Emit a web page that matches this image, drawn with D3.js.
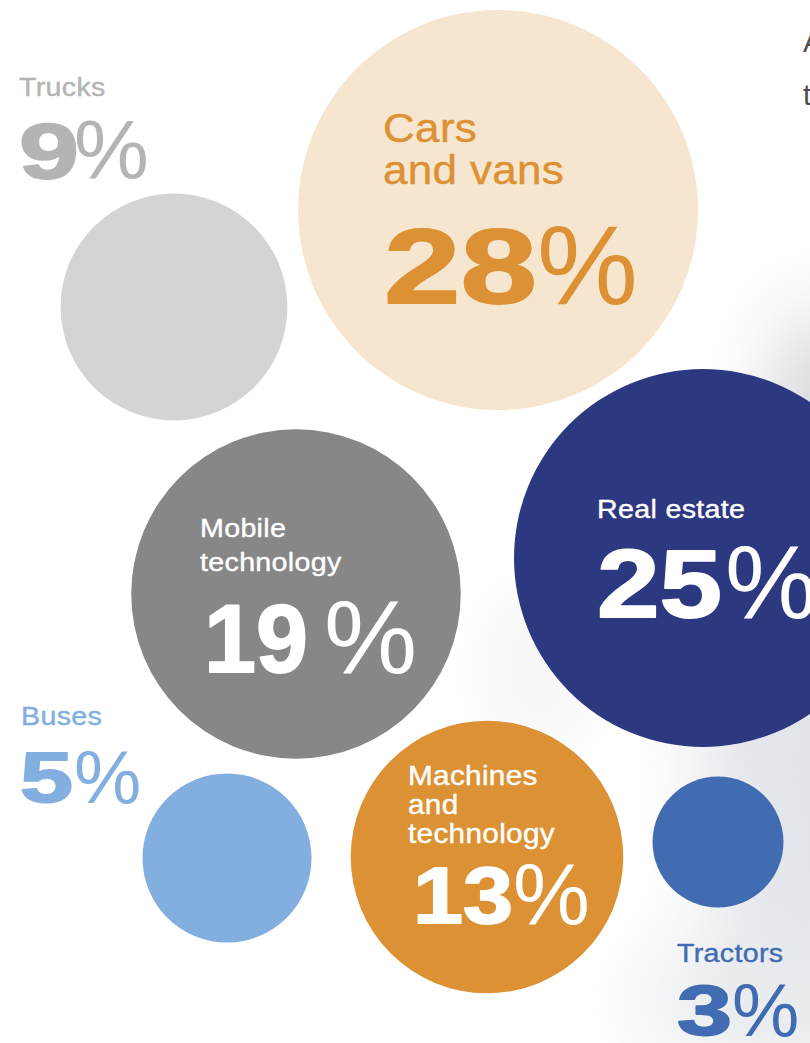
<!DOCTYPE html>
<html>
<head>
<meta charset="utf-8">
<script src="https://cdnjs.cloudflare.com/ajax/libs/d3/7.8.5/d3.min.js"></script>
<style>
  html, body { margin: 0; padding: 0; background: #fff; overflow: hidden; }
  svg { display: block; }
  text { font-family: "Liberation Sans", Arial, Helvetica, sans-serif; }
</style>
</head>
<body>
<div id="chart"></div>
<script>
// data
var categories = ["Trucks", "Cars and vans", "Real estate", "Mobile technology", "Buses", "Machines and technology", "Tractors"];
var shares     = [9, 28, 25, 19, 5, 13, 3];
var labelLines = [["Trucks"], ["Cars", "and vans"], ["Real estate"], ["Mobile", "technology"], ["Buses"], ["Machines", "and", "technology"], ["Tractors"]];
var introLines = ["A", "t"];

// styles
var fills      = ["#d4d4d4", "#f6e6cf", "#2c3880", "#878787", "#82aee0", "#dc9234", "#416cb1"];
var textColors = ["#b4b4b4", "#dc9234", "#ffffff", "#ffffff", "#82aee0", "#ffffff", "#416cb1"];

// hand placed bubble layout: centre, label anchor, number box, percent x
var layout = {
  "Trucks":                  {cx: 174, cy: 307, lx: 19,  ly: 96,  lh: 0,  lfs: 26, nx: 19,  ny: 178,  nfs: 78,  nw: 60,  px: 74},
  "Cars and vans":           {cx: 498, cy: 210, lx: 383, ly: 142, lh: 42, lfs: 40, nx: 384, ny: 303,  nfs: 105, nw: 153, px: 537},
  "Real estate":             {cx: 703, cy: 558, lx: 597, ly: 518, lh: 0,  lfs: 26, nx: 597, ny: 617,  nfs: 96,  nw: 125, px: 725},
  "Mobile technology":       {cx: 296, cy: 594, lx: 200, ly: 537, lh: 34, lfs: 26, nx: 204, ny: 672,  nfs: 97,  nw: 104, px: 324},
  "Buses":                   {cx: 227, cy: 858, lx: 21,  ly: 725, lh: 0,  lfs: 26, nx: 20,  ny: 802,  nfs: 70,  nw: 53,  px: 74},
  "Machines and technology": {cx: 487, cy: 857, lx: 408, ly: 785, lh: 29, lfs: 27, nx: 413, ny: 923,  nfs: 80,  nw: 100, px: 513},
  "Tractors":                {cx: 718, cy: 842, lx: 677, ly: 962, lh: 0,  lfs: 26, nx: 677, ny: 1035, nfs: 70,  nw: 55,  px: 732}
};

var W = 810, H = 1043;
var labelStretch = 1.1;
var pctRatio = 1.08;

var items = categories.map(function(c, i) {
  return {name: c, value: shares[i], lines: labelLines[i], fill: fills[i], color: textColors[i], pos: layout[c]};
});

var r = d3.scaleSqrt().domain([0, d3.max(shares)]).range([0, 200]);

var svg = d3.select("#chart").append("svg")
  .attr("width", W)
  .attr("height", H);

// soft photo-like shading on the right
var defs = svg.append("defs");
defs.append("filter").attr("id", "soft")
  .attr("x", "-50%").attr("y", "-50%").attr("width", "200%").attr("height", "200%")
  .append("feGaussianBlur").attr("stdDeviation", 40);

var bg = svg.append("g").attr("filter", "url(#soft)");
bg.append("ellipse").attr("cx", 830).attr("cy", 720).attr("rx", 130).attr("ry", 360).attr("fill", "#e2e5ea");
bg.append("ellipse").attr("cx", 770).attr("cy", 1000).attr("rx", 130).attr("ry", 70).attr("fill", "#e8ebee");
bg.append("ellipse").attr("cx", 820).attr("cy", 380).attr("rx", 30).attr("ry", 70).attr("fill", "#c9c5cd");
bg.append("ellipse").attr("cx", 540).attr("cy", 670).attr("rx", 30).attr("ry", 70).attr("fill", "#ececef");

// intro text at top right (runs off the page)
svg.append("g").selectAll("text")
  .data(introLines)
  .join("text")
  .attr("x", 803)
  .attr("y", function(d, i) { return 52 + i * 53; })
  .attr("font-size", 29)
  .attr("fill", "#4d4d4d")
  .text(function(d) { return d; });

// bubbles
svg.append("g").selectAll("circle")
  .data(items)
  .join("circle")
  .attr("cx", function(d) { return d.pos.cx; })
  .attr("cy", function(d) { return d.pos.cy; })
  .attr("r", function(d) { return r(d.value); })
  .attr("fill", function(d) { return d.fill; });

// labels
var lab = svg.append("g").selectAll("g")
  .data(items)
  .join("g");

lab.each(function(d) {
  var g = d3.select(this);
  var p = d.pos;

  g.selectAll("text.cat")
    .data(d.lines)
    .join("text")
    .attr("class", "cat")
    .attr("transform", function(t, i) {
      return "translate(" + p.lx + "," + (p.ly + i * p.lh) + ") scale(" + labelStretch + ",1)";
    })
    .attr("font-size", p.lfs)
    .attr("letter-spacing", 0.3)
    .attr("fill", d.color)
    .attr("stroke", d.color)
    .attr("stroke-width", 0.4)
    .text(function(t) { return t; });

  // big heavy number, widened to the poster's black grotesque
  g.append("text")
    .attr("x", p.nx)
    .attr("y", p.ny)
    .attr("font-size", p.nfs)
    .attr("font-weight", 700)
    .attr("textLength", p.nw)
    .attr("lengthAdjust", "spacingAndGlyphs")
    .attr("fill", d.color)
    .attr("stroke", d.color)
    .attr("stroke-width", 1.8)
    .attr("stroke-linejoin", "round")
    .text(d.value);

  g.append("text")
    .attr("x", p.px)
    .attr("y", p.ny + 1)
    .attr("font-size", p.nfs * pctRatio)
    .attr("fill", d.color)
    .text("%");
});
</script>
</body>
</html>
